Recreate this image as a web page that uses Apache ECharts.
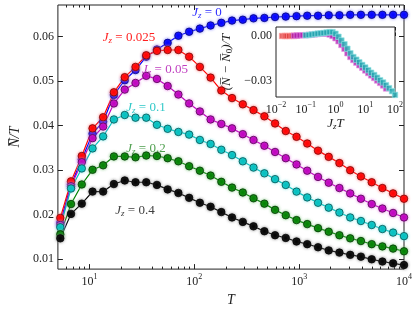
<!DOCTYPE html>
<html><head><meta charset="utf-8">
<script src="https://cdn.jsdelivr.net/npm/echarts@6/dist/echarts.min.js"></script>
<style>html,body{margin:0;padding:0;background:#fff}#c{width:415px;height:312px}</style>
</head><body><div id="c"></div>
<script>
// ---- data ----
const T = [5.27, 6.67, 8.45, 10.7, 13.5, 17.1, 21.7, 27.5, 34.8, 44.0, 55.7, 70.5, 89.3, 113, 143, 181, 229, 290, 367, 466, 589, 745, 944, 1194, 1514, 1914, 2421, 3069, 3882, 4920, 6223, 7870, 10000];
const jz0 = [0.0182, 0.0268, 0.0324, 0.0382, 0.0409, 0.0469, 0.0502, 0.0525, 0.0555, 0.0571, 0.0586, 0.0602, 0.0611, 0.0618, 0.0625, 0.0631, 0.0636, 0.0638, 0.0641, 0.0642, 0.0644, 0.0645, 0.0646, 0.0647, 0.0647, 0.0648, 0.0648, 0.0649, 0.0649, 0.0649, 0.0649, 0.0649, 0.0649];
const jz0025 = [0.0193, 0.0275, 0.0332, 0.0394, 0.0419, 0.0475, 0.0509, 0.0532, 0.0558, 0.0568, 0.0570, 0.0570, 0.0555, 0.0532, 0.0508, 0.0479, 0.0462, 0.0448, 0.0435, 0.0421, 0.0405, 0.0388, 0.0375, 0.0360, 0.0344, 0.0330, 0.0316, 0.0300, 0.0286, 0.0273, 0.0260, 0.0248, 0.0236];
const jz005 = [0.0177, 0.0264, 0.0318, 0.0372, 0.0398, 0.0450, 0.0481, 0.0496, 0.0512, 0.0505, 0.0489, 0.0470, 0.0450, 0.0432, 0.0414, 0.0404, 0.0394, 0.0381, 0.0368, 0.0355, 0.0341, 0.0327, 0.0313, 0.0299, 0.0285, 0.0272, 0.0260, 0.0248, 0.0236, 0.0224, 0.0214, 0.0204, 0.0194];
const jz01 = [0.0172, 0.0259, 0.0304, 0.0349, 0.0376, 0.0414, 0.0424, 0.0418, 0.0418, 0.0402, 0.0393, 0.0386, 0.0380, 0.0368, 0.0359, 0.0346, 0.0334, 0.0320, 0.0306, 0.0293, 0.0280, 0.0267, 0.0252, 0.0239, 0.0227, 0.0216, 0.0205, 0.0194, 0.0186, 0.0177, 0.0168, 0.0160, 0.0152];
const jz02 = [0.0156, 0.0224, 0.0268, 0.0301, 0.0311, 0.0331, 0.0331, 0.0329, 0.0333, 0.0332, 0.0327, 0.0320, 0.0309, 0.0299, 0.0288, 0.0274, 0.0261, 0.0250, 0.0237, 0.0225, 0.0211, 0.0199, 0.0188, 0.0179, 0.0170, 0.0162, 0.0154, 0.0147, 0.0141, 0.0134, 0.0129, 0.0124, 0.0118];
const jz04 = [0.0147, 0.0202, 0.0225, 0.0252, 0.0252, 0.0269, 0.0277, 0.0273, 0.0273, 0.0267, 0.0257, 0.0249, 0.0238, 0.0227, 0.0218, 0.0206, 0.0194, 0.0184, 0.0174, 0.0163, 0.0154, 0.0148, 0.0140, 0.0134, 0.0127, 0.0120, 0.0115, 0.0110, 0.0106, 0.0100, 0.0095, 0.0091, 0.0087];
const yTicks = [0.01, 0.02, 0.03, 0.04, 0.05, 0.06];
const xMajor = [10, 100, 1000, 10000];
const xMinor = [6, 7, 8, 9, 20, 30, 40, 50, 60, 70, 80, 90, 200, 300, 400, 500, 600, 700, 800, 900, 2000, 3000, 4000, 5000, 6000, 7000, 8000, 9000];
// inset
const inX_red = [0.016, 0.02, 0.023, 0.028, 0.034, 0.041, 0.05];
const inY_red = [0.0000, 0.0000, 0.0000, 0.0000, 0.0001, 0.0000, 0.0002];
const inX_mag = [0.04, 0.05, 0.063, 0.079, 0.1, 0.126, 0.158, 0.2, 0.251, 0.316, 0.398, 0.501, 0.631, 0.794, 1, 1.26, 1.58, 2, 2.51, 3.16, 3.98, 5.01, 6.31, 7.94, 10, 12.6, 15.8, 20, 25.1, 31.6, 39.8, 50.1];
const inY_mag = [0.0002, 0.0003, 0.0004, 0.0005, 0.0006, 0.0007, 0.0009, 0.0011, 0.0013, 0.0015, 0.0016, 0.0015, 0.0010, 0.0000, -0.0015, -0.0035, -0.0060, -0.0085, -0.0115, -0.0140, -0.0160, -0.0178, -0.0195, -0.0212, -0.0230, -0.0247, -0.0263, -0.0280, -0.0297, -0.0313, -0.0330, -0.0350];
const inX_cyan = [0.1, 0.126, 0.158, 0.2, 0.251, 0.316, 0.398, 0.501, 0.631, 0.794, 1, 1.26, 1.58, 2.0, 2.51, 3.16, 3.98, 5.01, 6.31, 7.94, 10, 12.6, 15.8, 20, 25.1, 31.6, 39.8, 50.1, 63.1, 79.4, 100];
const inY_cyan = [0.0005, 0.0007, 0.0010, 0.0013, 0.0016, 0.0018, 0.0020, 0.0023, 0.0026, 0.0026, 0.0015, -0.0005, -0.0030, -0.0055, -0.0085, -0.0115, -0.0140, -0.0158, -0.0175, -0.0193, -0.0210, -0.0228, -0.0245, -0.0260, -0.0278, -0.0295, -0.0310, -0.0328, -0.0348, -0.0368, -0.0393];
const inXMajor = [0.01, 0.1, 1, 10, 100];
const inXMinor = [0.02,0.03,0.04,0.05,0.06,0.07,0.08,0.09,0.2,0.3,0.4,0.5,0.6,0.7,0.8,0.9,2,3,4,5,6,7,8,9,20,30,40,50,60,70,80,90];
const inYTicks = [0, -0.03];

// ---- styling ----
const FF = 'Liberation Serif';
const pairs = a => T.map((t, i) => [t, a[i]]);
const zip = (xs, ys) => xs.map((x, i) => [x, ys[i]]);
function supLabel(v) {
  const e = Math.round(Math.log10(v));
  return '{b|10}{s|' + (e < 0 ? '\u2212' + (-e) : e) + '}';
}
const supRich = {
  b: {fontFamily: FF, fontSize: 12, color: '#222', lineHeight: 15, verticalAlign: 'bottom'},
  s: {fontFamily: FF, fontSize: 8, color: '#222', lineHeight: 9, verticalAlign: 'top'}
};
function lineSeries(name, data, color, halo, edge) {
  return {
    type: 'line', name, data: pairs(data), xAxisIndex: 0, yAxisIndex: 0,
    symbol: 'circle', symbolSize: 7.5, showSymbol: true,
    lineStyle: {color, width: 1.2},
    itemStyle: {color, borderColor: edge, borderWidth: 0.7, shadowBlur: 3, shadowColor: halo},
    emphasis: {disabled: true}, z: 3
  };
}
function sq(data, color, halo) {
  return {
    type: 'scatter', data, xAxisIndex: 4, yAxisIndex: 2, symbol: 'rect', symbolSize: 5.5,
    itemStyle: {color, borderColor: halo, borderWidth: 1}, z: 5
  };
}
const tickC = {lineStyle: {color: '#222', width: 1}};
function xAx(grid, min, max, pos, values, len, labels) {
  return {
    type: 'log', gridIndex: grid, min, max, position: pos, logBase: 10,
    axisLine: {show: false}, splitLine: {show: false},
    axisTick: Object.assign({show: true, inside: true, length: len, customValues: values}, tickC),
    axisLabel: labels ? {show: true, customValues: values, formatter: supLabel, rich: supRich, margin: 4} : {show: false}
  };
}
function yAx(grid, min, max, pos, values, len, labels, fmt) {
  return {
    type: 'value', gridIndex: grid, min, max, position: pos,
    axisLine: {show: false}, splitLine: {show: false},
    axisTick: Object.assign({show: true, inside: true, length: len, customValues: values}, tickC),
    axisLabel: labels ? {show: true, customValues: values, formatter: fmt, fontFamily: FF, fontSize: 12, color: '#222', margin: 4} : {show: false}
  };
}
function jzLabel(x, y, val, color) {
  return {
    type: 'text', x, y, z: 20,
    style: {
      text: '{J|J}{z|z}{t| = ' + val + '}', fill: color, align: 'center', verticalAlign: 'middle',
      rich: {
        J: {fontFamily: FF, fontStyle: 'italic', fontSize: 13, fill: color, lineHeight: 14, verticalAlign: 'top'},
        z: {fontFamily: FF, fontStyle: 'italic', fontSize: 9, fill: color, lineHeight: 9, verticalAlign: 'bottom'},
        t: {fontFamily: FF, fontSize: 13, fill: color, lineHeight: 14, verticalAlign: 'top'}
      }
    }
  };
}

const chart = echarts.init(document.getElementById('c'), null, {renderer: 'canvas'});
chart.setOption({
  animation: false,
  backgroundColor: '#fff',
  grid: [
    {left: 48, top: 5, right: 11, bottom: 30, show: true, borderColor: '#222', borderWidth: 1, backgroundColor: 'transparent'},
    {left: 276, top: 27, width: 119, height: 70, show: true, borderColor: '#222', borderWidth: 1, backgroundColor: '#fff', z: 4}
  ],
  xAxis: [
    Object.assign(xAx(0, 5, 10000, 'bottom', xMajor, 5, true), {name: 'T', nameLocation: 'middle', nameGap: 16,
      nameTextStyle: {fontFamily: FF, fontStyle: 'italic', fontSize: 14, color: '#222'}}),
    xAx(0, 5, 10000, 'bottom', xMinor, 2.5, false),
    xAx(0, 5, 10000, 'top', xMajor, 5, false),
    xAx(0, 5, 10000, 'top', xMinor, 2.5, false),
    Object.assign(xAx(1, 0.01, 100, 'bottom', inXMajor, 3.5, true), {name: '{J|J}{z|z}{T|T}', nameLocation: 'middle', nameGap: 14,
      nameTextStyle: {rich: {
        J: {fontFamily: FF, fontStyle: 'italic', fontSize: 13, color: '#222', lineHeight: 14, verticalAlign: 'top'},
        z: {fontFamily: FF, fontStyle: 'italic', fontSize: 9, color: '#222', lineHeight: 9, verticalAlign: 'bottom'},
        T: {fontFamily: FF, fontStyle: 'italic', fontSize: 13, color: '#222', lineHeight: 14, verticalAlign: 'top'}}}}),
    xAx(1, 0.01, 100, 'bottom', inXMinor, 2, false),
    xAx(1, 0.01, 100, 'top', inXMajor, 3.5, false),
    xAx(1, 0.01, 100, 'top', inXMinor, 2, false)
  ],
  yAxis: [
    Object.assign(yAx(0, 0.0078, 0.0671, 'left', yTicks, 5, true, v => v.toFixed(2)), {
      name: '{N|N\u0305}{t|/T}', nameLocation: 'middle', nameGap: 33, nameRotate: 90,
      nameTextStyle: {rich: {
        N: {fontFamily: FF, fontStyle: 'italic', fontSize: 14, color: '#222'},
        t: {fontFamily: FF, fontStyle: 'italic', fontSize: 14, color: '#222'}}}}),
    yAx(0, 0.0078, 0.0671, 'right', yTicks, 5, false),
    Object.assign(yAx(1, -0.0407, 0.006, 'left', inYTicks, 3.5, true, v => (v < 0 ? '\u2212' : '') + Math.abs(v).toFixed(2)), {
      name: '{a|(N\u0305 \u2212 N\u0305}{s|0}{a|)/T}', nameLocation: 'middle', nameGap: 42, nameRotate: 90,
      nameTextStyle: {rich: {
        a: {fontFamily: FF, fontStyle: 'italic', fontSize: 13, color: '#222', lineHeight: 14, verticalAlign: 'top'},
        s: {fontFamily: FF, fontSize: 9, color: '#222', lineHeight: 9, verticalAlign: 'bottom'}}}}),
    yAx(1, -0.0407, 0.006, 'right', inYTicks, 3.5, false)
  ],
  series: [
    lineSeries('Jz=0', jz0, '#0000ff', 'rgba(120,120,255,0.9)', '#000066'),
    lineSeries('Jz=0.025', jz0025, '#ff0000', 'rgba(255,120,120,0.9)', '#660000'),
    lineSeries('Jz=0.05', jz005, '#bf00bf', 'rgba(230,120,230,0.9)', '#400040'),
    lineSeries('Jz=0.1', jz01, '#00bfbf', 'rgba(120,230,230,0.9)', '#004040'),
    lineSeries('Jz=0.2', jz02, '#008000', 'rgba(120,200,120,0.9)', '#002800'),
    lineSeries('Jz=0.4', jz04, '#000000', 'rgba(130,130,130,0.9)', '#000000'),
    sq(zip(inX_red, inY_red), '#e04040', 'rgba(255,160,160,0.8)'),
    sq(zip(inX_mag, inY_mag), '#b020b0', 'rgba(230,150,230,0.8)'),
    sq(zip(inX_cyan, inY_cyan), '#20a8b0', 'rgba(150,230,230,0.8)')
  ],
  graphic: [
    jzLabel(207, 13, '0', '#3030ff'),
    jzLabel(129, 38, '0.025', '#ff2020'),
    jzLabel(165, 70, '0.05', '#c040c0'),
    jzLabel(146, 108, '0.1', '#30c8c8'),
    jzLabel(146, 149, '0.2', '#50a050'),
    jzLabel(135, 211, '0.4', '#404040')
  ]
});
</script></body></html>
